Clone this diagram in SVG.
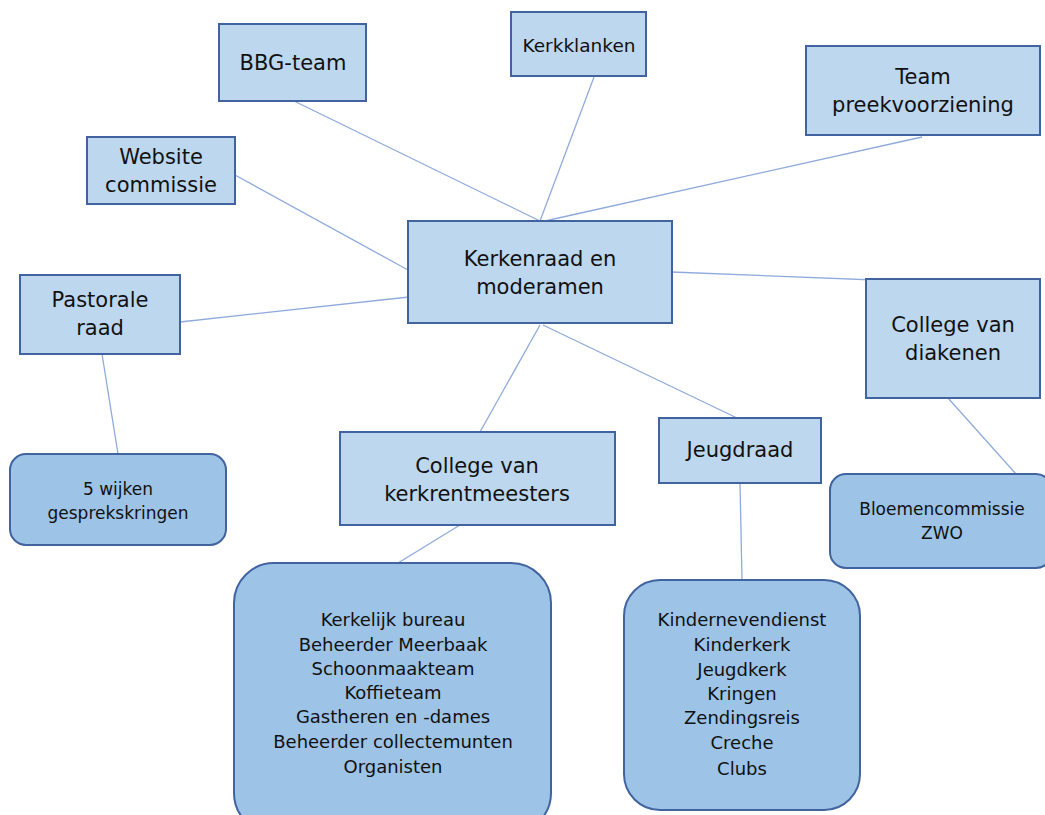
<svg xmlns="http://www.w3.org/2000/svg" width="1045" height="815" viewBox="0 0 1045 815">
<style>
.box{fill:#bdd7ee;stroke:#41639f;stroke-width:2}
.rbox{fill:#9dc3e6;stroke:#41639f;stroke-width:2}
.t{font-family:"Comic Sans MS","DejaVu Sans",sans-serif;font-size:21px;fill:#111;text-anchor:middle}
.s{font-family:"Comic Sans MS","DejaVu Sans",sans-serif;font-size:18px;fill:#111;text-anchor:middle}
.m{font-family:"Comic Sans MS","DejaVu Sans",sans-serif;font-size:17px;fill:#111;text-anchor:middle}
.c{stroke:#8eaadc;stroke-width:1.3;fill:none}
</style>
<rect width="1045" height="815" fill="#fff"/>
<g id="connectors">
<line class="c" x1="294" y1="101" x2="540" y2="221"/>
<line class="c" x1="594" y1="77" x2="540" y2="221"/>
<line class="c" x1="922" y1="137" x2="545" y2="221"/>
<line class="c" x1="235" y1="175" x2="408" y2="270"/>
<line class="c" x1="180" y1="322" x2="418" y2="296"/>
<line class="c" x1="672" y1="272" x2="952" y2="283"/>
<line class="c" x1="540" y1="325" x2="480" y2="432"/>
<line class="c" x1="543" y1="325" x2="737" y2="418"/>
<line class="c" x1="102" y1="354" x2="118" y2="454"/>
<line class="c" x1="948" y1="398" x2="1025" y2="484"/>
<line class="c" x1="460" y1="525" x2="398" y2="563"/>
<line class="c" x1="740" y1="483" x2="742" y2="580"/>
</g>
<g id="bbg"><rect class="box" x="219" y="24" width="147" height="77"/><text class="t" x="293" y="70">BBG-team</text></g>
<g id="kerkklanken"><rect class="box" x="511" y="12" width="135" height="64"/><text class="t" x="579" y="52" style="font-size:18.5px">Kerkklanken</text></g>
<g id="preek"><rect class="box" x="806" y="46" width="234" height="89"/><text class="t" x="923" y="84">Team</text><text class="t" x="923" y="112">preekvoorziening</text></g>
<g id="website"><rect class="box" x="87" y="137" width="148" height="67"/><text class="t" x="161" y="164">Website</text><text class="t" x="161" y="192">commissie</text></g>
<g id="kerkenraad"><rect class="box" x="408" y="221" width="264" height="102"/><text class="t" x="540" y="266">Kerkenraad en</text><text class="t" x="540" y="294">moderamen</text></g>
<g id="pastorale"><rect class="box" x="20" y="275" width="160" height="79"/><text class="t" x="100" y="307">Pastorale</text><text class="t" x="100" y="335">raad</text></g>
<g id="diakenen"><rect class="box" x="866" y="279" width="174" height="119"/><text class="t" x="953" y="332">College van</text><text class="t" x="953" y="360">diakenen</text></g>
<g id="kerkrentmeesters"><rect class="box" x="340" y="432" width="275" height="93"/><text class="t" x="477" y="473">College van</text><text class="t" x="477" y="501">kerkrentmeesters</text></g>
<g id="jeugdraad"><rect class="box" x="659" y="418" width="162" height="65"/><text class="t" x="740" y="457">Jeugdraad</text></g>
<g id="wijken"><rect class="rbox" x="10" y="454" width="216" height="91" rx="16"/><text class="m" x="118" y="495">5 wijken</text><text class="m" x="118" y="519">gesprekskringen</text></g>
<g id="bloemen"><rect class="rbox" x="830" y="474" width="222" height="94" rx="16"/><text class="m" x="942" y="515">Bloemencommissie</text><text class="m" x="942" y="539">ZWO</text></g>
<g id="kerkelijk"><rect class="rbox" x="234" y="563" width="317" height="270" rx="40"/>
<text class="s" x="393" y="626">Kerkelijk bureau</text>
<text class="s" x="393" y="651">Beheerder Meerbaak</text>
<text class="s" x="393" y="675">Schoonmaakteam</text>
<text class="s" x="393" y="699">Koffieteam</text>
<text class="s" x="393" y="723">Gastheren en -dames</text>
<text class="s" x="393" y="748">Beheerder collectemunten</text>
<text class="s" x="393" y="773">Organisten</text>
</g>
<g id="jeugd"><rect class="rbox" x="624" y="580" width="236" height="230" rx="36"/>
<text class="s" x="742" y="626">Kindernevendienst</text>
<text class="s" x="742" y="651">Kinderkerk</text>
<text class="s" x="742" y="676">Jeugdkerk</text>
<text class="s" x="742" y="700">Kringen</text>
<text class="s" x="742" y="724">Zendingsreis</text>
<text class="s" x="742" y="749">Creche</text>
<text class="s" x="742" y="775">Clubs</text>
</g>
</svg>
